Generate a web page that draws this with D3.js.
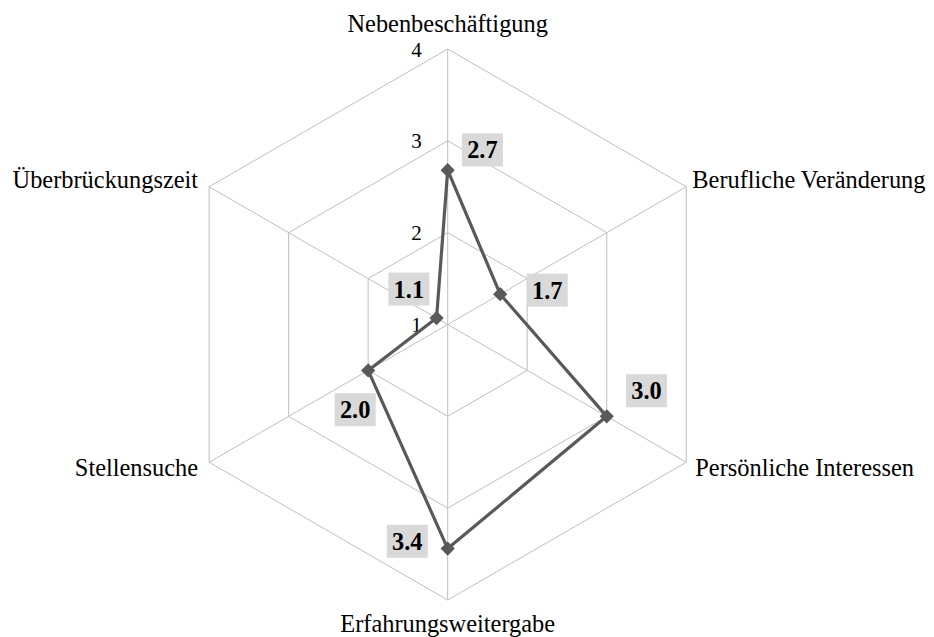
<!DOCTYPE html>
<html>
<head>
<meta charset="utf-8">
<script src="https://cdn.jsdelivr.net/npm/d3@7"></script>
<style>
  html, body { margin: 0; padding: 0; background: #ffffff; }
  svg { display: block; }
</style>
</head>
<body>
<svg id="chart" width="934" height="637"></svg>
<script>
// ---- data ----
const categories = ["Nebenbeschäftigung", "Berufliche Veränderung", "Persönliche Interessen",
                    "Erfahrungsweitergabe", "Stellensuche", "Überbrückungszeit"];
const values = [2.68, 1.66, 3.0, 3.44, 2.0, 1.14];
const tickValues = [1, 2, 3, 4];
const tickLabels = ["1", "2", "3", "4"];

// ---- layout (not data) ----
const W = 934, H = 637;
const cx = 447.7, cy = 324.5, R = 275.5;
const labelOffsets = [[34.7, -20.3], [47, -4], [39.8, -25.6], [-40.4, -7.3], [-13, 39.3], [-27.7, -29]];
const catPlacement = [
  { dx: 0, dy: -17, anchor: "middle" },
  { dx: 6, dy: 1.5, anchor: "start" },
  { dx: 9, dy: 14, anchor: "start" },
  { dx: 0, dy: 31.5, anchor: "middle" },
  { dx: -11, dy: 14, anchor: "end" },
  { dx: -11, dy: 1.5, anchor: "end" }
];
const FONT = "'Liberation Serif', 'Times New Roman', Times, serif";

const svg = d3.select("#chart");
const n = categories.length;
const r = d3.scaleLinear().domain([1, 4]).range([0, R]);
const angle = d3.scalePoint().domain(d3.range(n)).range([0, 2 * Math.PI * (n - 1) / n]);
const pt = (i, v) => {
  const a = angle(i);
  return [cx + r(v) * Math.sin(a), cy - r(v) * Math.cos(a)];
};

const grid = svg.append("g");
// rings
tickValues.slice(1).forEach(t => {
  grid.append("path")
    .attr("d", d3.line()(d3.range(n).map(i => pt(i, t))) + "Z")
    .attr("fill", "none").attr("stroke", "#bfbfbf").attr("stroke-width", 1);
});
// spokes
d3.range(n).forEach(i => {
  const [x, y] = pt(i, 4);
  grid.append("line").attr("x1", cx).attr("y1", cy).attr("x2", x).attr("y2", y)
    .attr("stroke", "#bfbfbf").attr("stroke-width", 1);
});

// tick labels
svg.append("g").selectAll("text").data(tickValues).join("text")
  .attr("x", cx - 26)
  .attr("y", d => cy - r(d) + 7.5)
  .attr("text-anchor", "end")
  .attr("font-family", FONT)
  .attr("font-size", 21)
  .attr("fill", "#000")
  .text((d, i) => tickLabels[i]);

// category labels
svg.append("g").selectAll("text").data(categories).join("text")
  .attr("x", (d, i) => pt(i, 4)[0] + catPlacement[i].dx)
  .attr("y", (d, i) => pt(i, 4)[1] + catPlacement[i].dy)
  .attr("text-anchor", (d, i) => catPlacement[i].anchor)
  .attr("font-family", FONT)
  .attr("font-size", 24.4)
  .attr("fill", "#000")
  .text(d => d);

// series line
const pts = values.map((v, i) => pt(i, v));
svg.append("path")
  .attr("d", d3.line()(pts) + "Z")
  .attr("fill", "none").attr("stroke", "#595959").attr("stroke-width", 3.2)
  .attr("stroke-linejoin", "round");

// markers
svg.append("g").selectAll("path").data(pts).join("path")
  .attr("transform", d => `translate(${d[0]},${d[1]})`)
  .attr("d", d3.symbol().type(d3.symbolDiamond2).size(130))
  .attr("fill", "#595959");

// data labels
const lg = svg.append("g").selectAll("g").data(values).join("g")
  .attr("transform", (d, i) => `translate(${pts[i][0] + labelOffsets[i][0]},${pts[i][1] + labelOffsets[i][1]})`);
lg.append("rect").attr("x", -20.5).attr("y", -16.5).attr("width", 41).attr("height", 33)
  .attr("fill", "#d9d9d9");
lg.append("text")
  .attr("text-anchor", "middle").attr("y", 8.5)
  .attr("font-family", FONT)
  .attr("font-size", 24.4).attr("font-weight", "bold").attr("fill", "#000")
  .text(d => d3.format(".1f")(d));
</script>
</body>
</html>
